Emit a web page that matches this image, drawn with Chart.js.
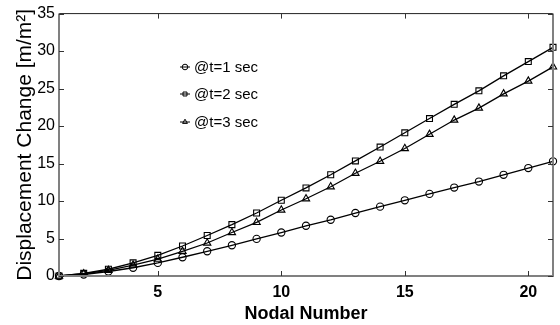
<!DOCTYPE html>
<html>
<head>
<meta charset="utf-8">
<script src="https://cdn.jsdelivr.net/npm/chart.js@4"></script>
<style>
    html, body { margin: 0; padding: 0; background: #fff; }
    #wrap { width: 560px; height: 325px; }
</style>
</head>
<body>
<div id="wrap"><canvas id="dispChart" width="560" height="325"></canvas></div>
<script>
// Data
const nodes = [1, 2, 3, 4, 5, 6, 7, 8, 9, 10, 11, 12, 13, 14, 15, 16, 17, 18, 19, 20, 21];
const t1 = [0, 0.2, 0.6, 1.1, 1.75, 2.5, 3.3, 4.1, 4.95, 5.8, 6.7, 7.5, 8.4, 9.25, 10.1, 10.95, 11.8, 12.6, 13.5, 14.4, 15.3];
const t2 = [0, 0.35, 0.9, 1.75, 2.75, 4.0, 5.4, 6.85, 8.4, 10.1, 11.75, 13.5, 15.35, 17.2, 19.1, 21.0, 22.9, 24.7, 26.7, 28.6, 30.5];
const t3 = [0, 0.3, 0.75, 1.45, 2.25, 3.3, 4.4, 5.8, 7.15, 8.8, 10.3, 11.9, 13.7, 15.3, 17.0, 18.9, 20.8, 22.4, 24.3, 26.0, 27.9];
const seriesNames = ['@t=1 sec', '@t=2 sec', '@t=3 sec'];
const xTicks = [5, 10, 15, 20];
const yTicks = [0, 5, 10, 15, 20, 25, 30, 35];

const FONT = "'Liberation Sans', Arial, sans-serif";

function makeSet(label, values, shape, r) {
    return {
        label: label,
        data: nodes.map((n, i) => ({ x: n, y: values[i] })),
        borderColor: '#000',
        borderWidth: 1.3,
        pointStyle: shape,
        pointRadius: r,
        pointBorderWidth: 1.1,
        pointBorderColor: '#000',
        pointBackgroundColor: 'rgba(0,0,0,0)',
        tension: 0,
        clip: false
    };
}

// box, inward ticks and in-plot legend
const frame = {
    id: 'frame',
    afterDraw(chart) {
        const ctx = chart.ctx;
        const a = chart.chartArea;
        const xs = chart.scales.x, ys = chart.scales.y;
        ctx.save();
        ctx.strokeStyle = '#222';
        ctx.lineWidth = 1;
        ctx.beginPath();
        ctx.moveTo(a.left, a.top); ctx.lineTo(a.right, a.top);
        ctx.stroke();
        ctx.strokeStyle = '#808080';
        ctx.lineWidth = 2;
        ctx.beginPath();
        ctx.moveTo(a.left, a.top); ctx.lineTo(a.left, a.bottom);
        ctx.lineTo(a.right, a.bottom); ctx.lineTo(a.right, a.top);
        ctx.stroke();

        ctx.strokeStyle = '#333';
        ctx.lineWidth = 1;
        ctx.beginPath();
        xTicks.forEach(v => {
            const px = Math.round(xs.getPixelForValue(v)) + 0.5;
            ctx.moveTo(px, a.bottom); ctx.lineTo(px, a.bottom - 5);
            ctx.moveTo(px, a.top); ctx.lineTo(px, a.top + 5);
        });
        yTicks.forEach(v => {
            const py = Math.round(ys.getPixelForValue(v)) + 0.5;
            ctx.moveTo(a.left, py); ctx.lineTo(a.left + 5, py);
            ctx.moveTo(a.right, py); ctx.lineTo(a.right - 5, py);
        });
        ctx.stroke();

        // legend
        const lx = 185, ly = [67, 94, 122];
        chart.data.datasets.forEach((ds, i) => {
            ctx.strokeStyle = '#000';
            ctx.fillStyle = 'rgba(0,0,0,0)';
            ctx.lineWidth = 1;
            ctx.beginPath();
            ctx.moveTo(lx - 5, ly[i]); ctx.lineTo(lx + 5, ly[i]);
            ctx.stroke();
            Chart.helpers.drawPoint(ctx, {
                pointStyle: ds.pointStyle,
                radius: 2.8,
                borderWidth: 1
            }, lx, ly[i]);
            ctx.fillStyle = '#000';
            ctx.font = '15px ' + FONT;
            ctx.textBaseline = 'middle';
            ctx.textAlign = 'left';
            ctx.fillText(ds.label, lx + 9, ly[i] + 1);
        });
        ctx.restore();
    }
};

new Chart(document.getElementById('dispChart'), {
    type: 'line',
    data: {
        datasets: [
            makeSet(seriesNames[0], t1, 'circle', 3.6),
            makeSet(seriesNames[1], t2, 'rect', 4.2),
            makeSet(seriesNames[2], t3, 'triangle', 4.2)
        ]
    },
    options: {
        responsive: false,
        animation: false,
        layout: { padding: { top: 10, right: 7, left: 0, bottom: 0 } },
        plugins: {
            legend: { display: false },
            tooltip: { enabled: false }
        },
        scales: {
            x: {
                type: 'linear',
                min: 1,
                max: 21,
                border: { display: false },
                grid: { display: false, drawTicks: false },
                afterBuildTicks(scale) { scale.ticks = xTicks.map(v => ({ value: v })); },
                afterFit(scale) { scale.height = 49; },
                ticks: {
                    color: '#000',
                    padding: 7,
                    font: { family: FONT, size: 16, weight: 'bold' }
                },
                title: {
                    display: true,
                    text: 'Nodal Number',
                    color: '#000',
                    padding: { top: 2, bottom: 0 },
                    font: { family: FONT, size: 18, weight: 'bold' }
                }
            },
            y: {
                min: 0,
                max: 35,
                border: { display: false },
                grid: { display: false, drawTicks: false },
                afterBuildTicks(scale) { scale.ticks = yTicks.map(v => ({ value: v })); },
                afterFit(scale) { scale.width = 59; },
                ticks: {
                    color: '#000',
                    padding: 4,
                    font: { family: FONT, size: 16 }
                },
                title: {
                    display: true,
                    text: 'Displacement Change [m/m²]',
                    color: '#000',
                    padding: { top: 13, bottom: 0 },
                    font: { family: FONT, size: 21 }
                }
            }
        }
    },
    plugins: [frame]
});
</script>
</body>
</html>
